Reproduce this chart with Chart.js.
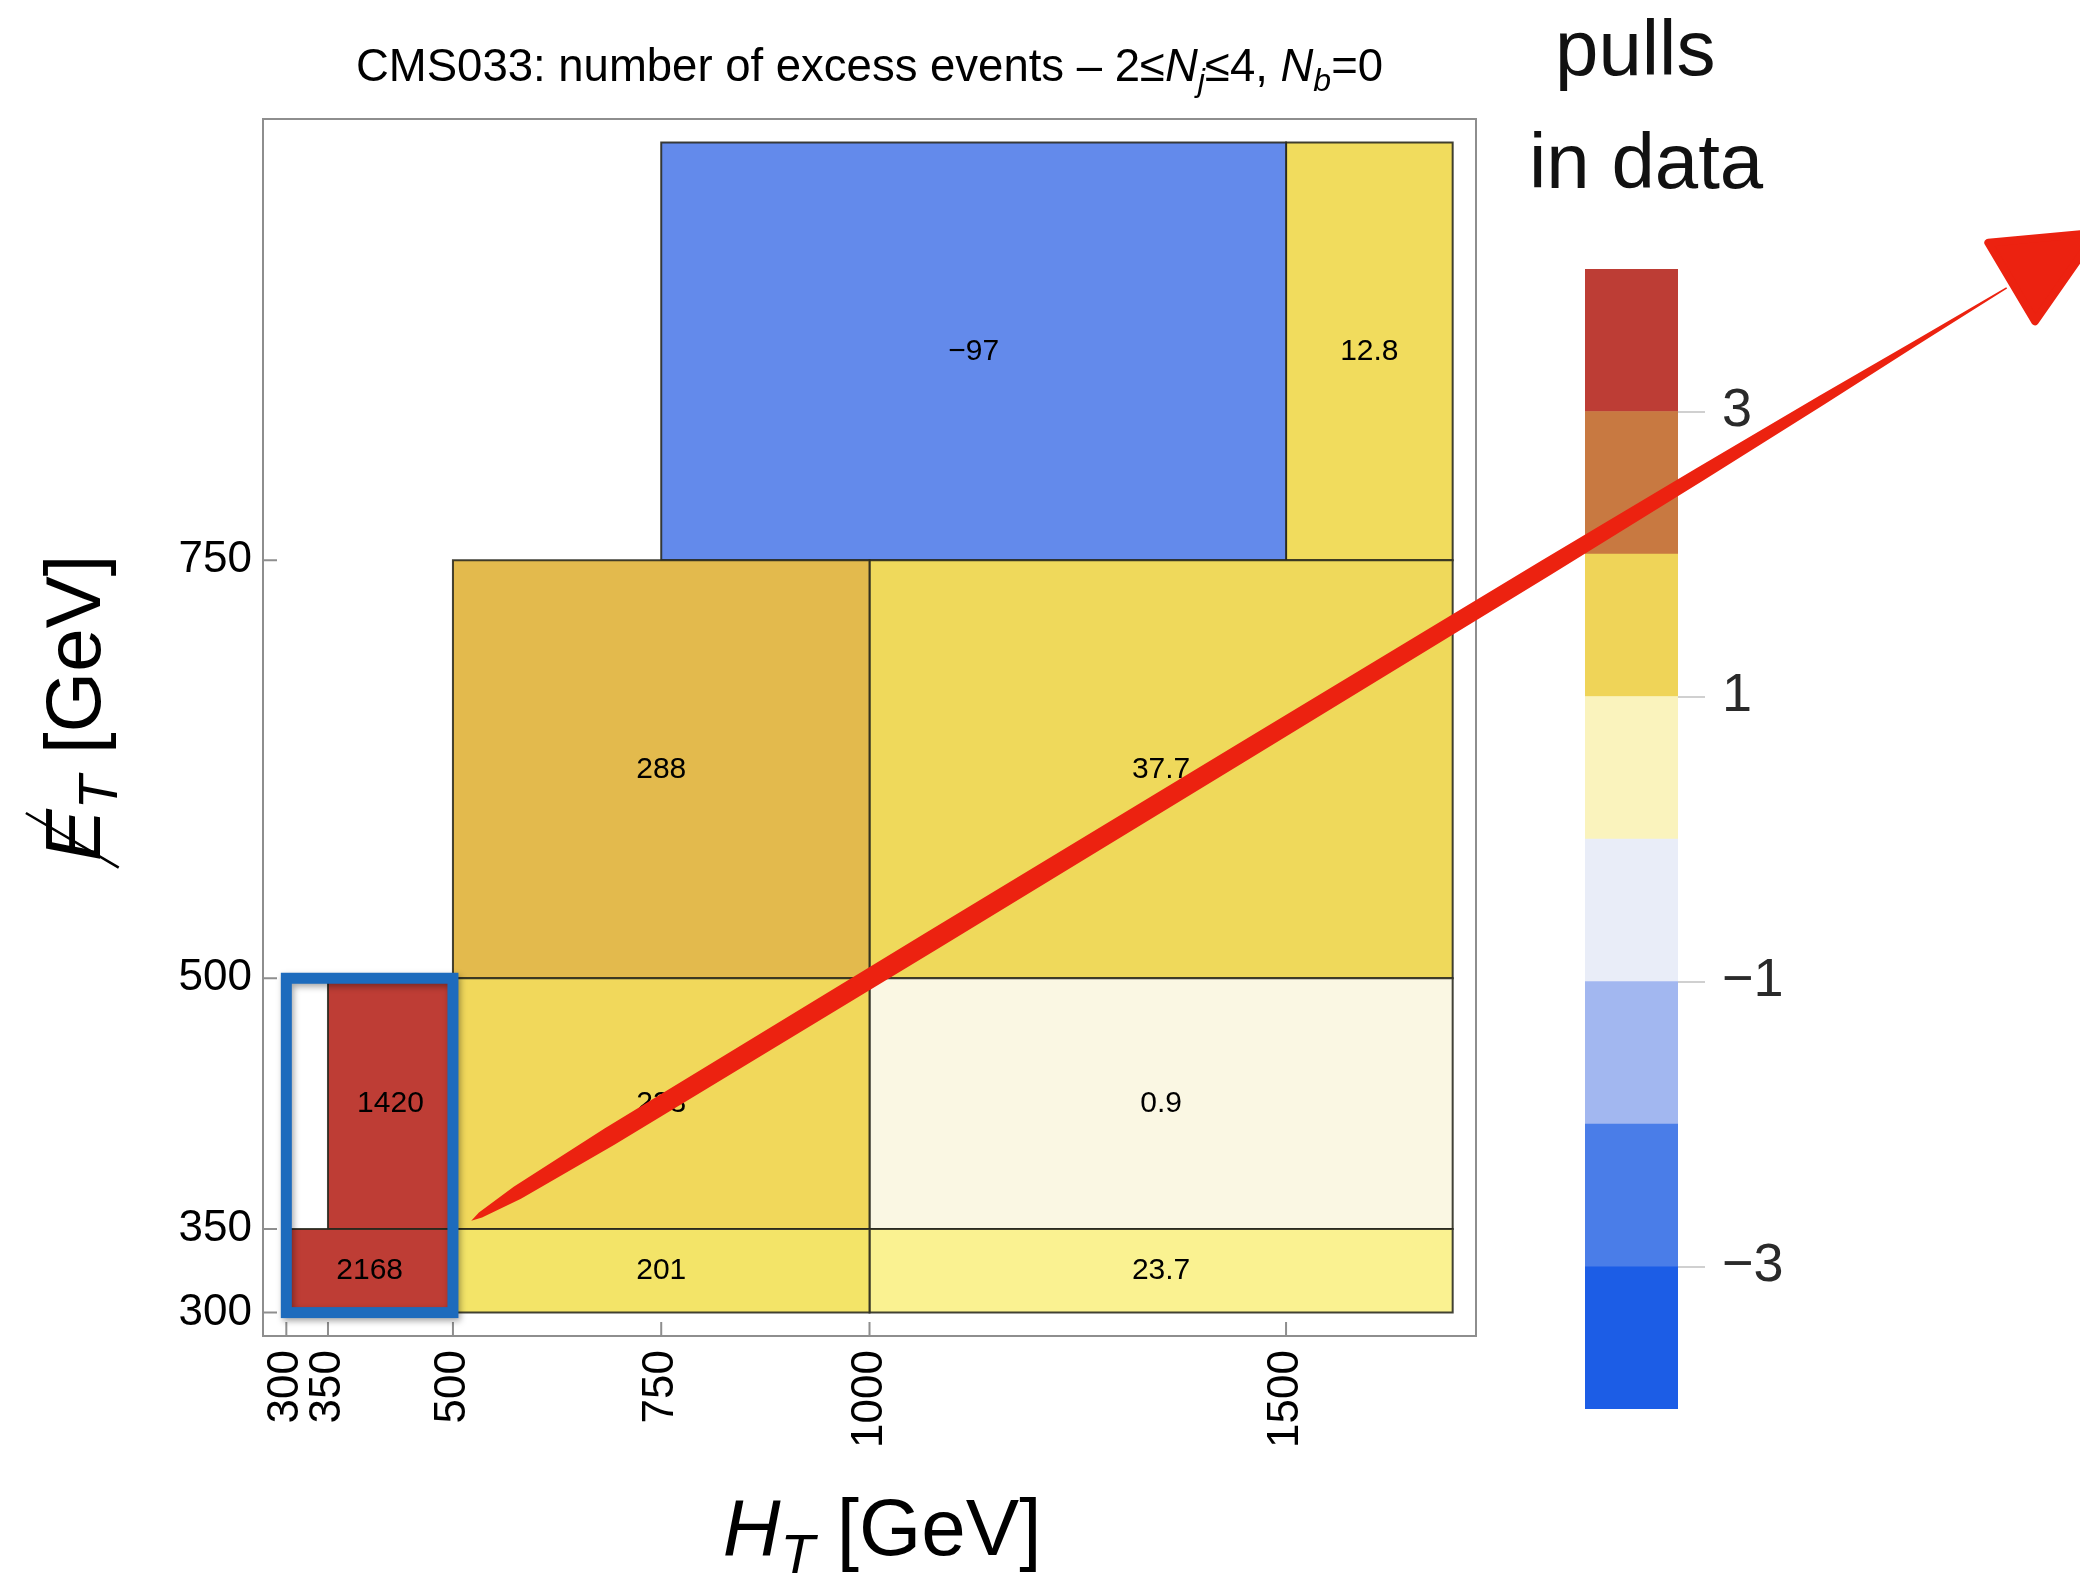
<!DOCTYPE html>
<html>
<head>
<meta charset="utf-8">
<script src="https://cdn.jsdelivr.net/npm/chart.js@4.4.1/dist/chart.umd.min.js"></script>
<style>
  html, body { margin: 0; padding: 0; background: #fff; overflow: hidden; }
  #wrap { position: relative; width: 2080px; height: 1575px; }
  #pulls { position: absolute; left: 1585px; top: 209px; z-index: 1; }
  #main { position: absolute; left: 0; top: 0; z-index: 2; }
</style>
</head>
<body>
<div id="wrap">
  <canvas id="pulls" width="300" height="1260"></canvas>
  <canvas id="main" width="2080" height="1575"></canvas>
</div>
<script>
// Signal-region bins: H_T and missing E_T ranges (GeV) and the excess events in each
const htLow   = [300, 350, 500, 1000, 500, 1000, 500, 1000, 750, 1500];
const htHigh  = [500, 500, 1000, 1700, 1000, 1700, 1000, 1700, 1500, 1700];
const metLow  = [300, 350, 300, 300, 350, 350, 500, 500, 750, 750];
const metHigh = [350, 500, 350, 350, 500, 500, 750, 750, 1000, 1000];
const excessEvents = [2168, 1420, 201, 23.7, 233, 0.9, 288, 37.7, -97, 12.8];

// Fill colour of each bin (pull in data)
const cellColors = ['#be3d35', '#be3d35', '#f3e468', '#faf291', '#f1d85b',
                    '#faf7e3', '#e3ba4d', '#efd95b', '#638aeb', '#f1dc5d'];

const htTicks  = [300, 350, 500, 750, 1000, 1500];
const metTicks = [300, 350, 500, 750];

// Colour legend for the pulls
const pullEdges  = [-4, -3, -2, -1, 0, 1, 2, 3, 4];
const pullColors = ['#1c5de6', '#4a7de8', '#a2b7f0', '#e9edf8',
                    '#faf3bd', '#efd458', '#c87941', '#bd3d35'];
const pullTicks  = [-3, -1, 1, 3];

// Highlighted low-H_T region and the annotation arrow (in H_T / E_T units)
const highlightBox = { htFrom: 300, htTo: 500, metFrom: 300, metTo: 500 };
const arrowFrom = { x: 522, y: 355 };
const arrowTo   = { x: 2365, y: 913 };
const arrowHead = [{ x: 2343, y: 940 }, { x: 2473, y: 946 }, { x: 2399, y: 893 }];

const FONT = '"Liberation Sans", Arial, Helvetica, sans-serif';
const fmt = v => (v < 0 ? '\u2212' + Math.abs(v) : String(v));

function partFont(p, size) {
  const s = p.sub ? Math.round(size * 0.7) : size;
  return (p.it ? 'italic ' : '') + s + 'px ' + FONT;
}
function drawRich(ctx, parts, x, y, size, align) {
  let total = 0;
  const widths = parts.map(p => { ctx.font = partFont(p, size); const w = ctx.measureText(p.t).width; total += w; return w; });
  let cx = align === 'center' ? x - total / 2 : x;
  const placed = [];
  ctx.textAlign = 'left';
  ctx.textBaseline = 'alphabetic';
  parts.forEach((p, i) => {
    ctx.font = partFont(p, size);
    ctx.fillText(p.t, cx, y + (p.sub ? size * 0.22 : 0));
    placed.push({ x: cx, w: widths[i] });
    cx += widths[i];
  });
  return placed;
}

// One closed rectangle per bin, traced through the x/y scales
const cellDatasets = excessEvents.map((v, i) => ({
  label: fmt(v),
  data: [
    { x: htLow[i],  y: metHigh[i] },
    { x: htHigh[i], y: metHigh[i] },
    { x: htHigh[i], y: metLow[i] },
    { x: htLow[i],  y: metLow[i] },
    { x: htLow[i],  y: metHigh[i] },
    { x: htHigh[i], y: metHigh[i] }
  ],
  backgroundColor: cellColors[i],
  borderColor: 'rgba(40,40,30,0.88)',
  borderWidth: 2,
  borderJoinStyle: 'miter',
  pointRadius: 0,
  pointHoverRadius: 0,
  tension: 0,
  fill: 'shape'
}));

const plotDecor = {
  id: 'plotDecor',
  afterDatasetsDraw(chart) {
    const { ctx, chartArea: a, scales: { x, y } } = chart;
    ctx.save();
    // bin values
    ctx.font = '30px ' + FONT;
    ctx.fillStyle = '#000';
    ctx.textAlign = 'center';
    ctx.textBaseline = 'middle';
    excessEvents.forEach((v, i) => {
      const cx = x.getPixelForValue((htLow[i] + htHigh[i]) / 2);
      const cy = y.getPixelForValue((metLow[i] + metHigh[i]) / 2);
      ctx.fillText(fmt(v), cx, cy);
    });
    // frame with inward ticks
    ctx.strokeStyle = '#8e8e8e';
    ctx.lineWidth = 2;
    ctx.strokeRect(a.left, a.top, a.right - a.left, a.bottom - a.top);
    ctx.beginPath();
    htTicks.forEach(v => {
      const px = x.getPixelForValue(v);
      ctx.moveTo(px, a.bottom); ctx.lineTo(px, a.bottom - 14);
    });
    metTicks.forEach(v => {
      const py = y.getPixelForValue(v);
      ctx.moveTo(a.left, py); ctx.lineTo(a.left + 14, py);
    });
    ctx.stroke();
    ctx.restore();
  },
  afterDraw(chart) {
    const { ctx, chartArea: a, scales: { x, y } } = chart;
    ctx.save();
    ctx.fillStyle = '#000';

    // title
    drawRich(ctx, [
      { t: 'CMS033: number of excess events \u2013 2\u2264' },
      { t: 'N', it: true }, { t: 'j', it: true, sub: true },
      { t: '\u22644, ' },
      { t: 'N', it: true }, { t: 'b', it: true, sub: true },
      { t: '=0' }
    ], (a.left + a.right) / 2, 81, 45.5, 'center');

    // x-axis title
    drawRich(ctx, [
      { t: 'H', it: true }, { t: 'T', it: true, sub: true }, { t: ' [GeV]' }
    ], 882, 1555, 80, 'center');

    // y-axis title (rotated, slashed E for missing transverse energy)
    ctx.save();
    ctx.translate(100, 708);
    ctx.rotate(-Math.PI / 2);
    const ySize = 78;
    const placed = drawRich(ctx, [
      { t: 'E', it: true }, { t: 'T', it: true, sub: true }, { t: ' [GeV]' }
    ], 0, 0, ySize, 'center');
    const ex = placed[0].x;
    ctx.strokeStyle = '#000';
    ctx.lineWidth = 2.5;
    ctx.beginPath();
    ctx.moveTo(ex - 0.08 * ySize, 0.24 * ySize);
    ctx.lineTo(ex + 0.62 * ySize, -0.95 * ySize);
    ctx.stroke();
    ctx.restore();

    // legend heading
    ctx.font = '78px ' + FONT;
    ctx.textAlign = 'left';
    ctx.textBaseline = 'alphabetic';
    ctx.fillStyle = '#111';
    ctx.fillText('pulls', 1555, 75);
    ctx.fillText('in data', 1529, 188);

    // highlighted region
    const bx0 = x.getPixelForValue(highlightBox.htFrom);
    const bx1 = x.getPixelForValue(highlightBox.htTo);
    const by0 = y.getPixelForValue(highlightBox.metTo);
    const by1 = y.getPixelForValue(highlightBox.metFrom);
    ctx.save();
    ctx.shadowColor = 'rgba(0,0,0,0.35)';
    ctx.shadowBlur = 6;
    ctx.shadowOffsetX = 2;
    ctx.shadowOffsetY = 3;
    ctx.strokeStyle = '#1d6bbd';
    ctx.lineWidth = 11;
    ctx.strokeRect(bx0, by0, bx1 - bx0, by1 - by0);
    ctx.restore();

    // annotation arrow: tapered brush stroke plus head
    const p0 = { x: x.getPixelForValue(arrowFrom.x), y: y.getPixelForValue(arrowFrom.y) };
    const p1 = { x: x.getPixelForValue(arrowTo.x), y: y.getPixelForValue(arrowTo.y) };
    const dx = p1.x - p0.x, dy = p1.y - p0.y, len = Math.hypot(dx, dy);
    const nx = -dy / len, ny = dx / len;
    const profile = [[0, 0], [0.006, 3], [0.03, 7], [0.09, 9.5], [0.3, 10], [0.5, 9.5],
                     [0.7, 8.5], [0.8, 7], [0.88, 5], [0.94, 2.6], [1, 0.8]];
    ctx.fillStyle = '#ec2210';
    ctx.beginPath();
    profile.forEach(([t, w], k) => {
      const px = p0.x + dx * t + nx * w, py = p0.y + dy * t + ny * w;
      if (k === 0) ctx.moveTo(px, py); else ctx.lineTo(px, py);
    });
    profile.slice().reverse().forEach(([t, w]) => {
      ctx.lineTo(p0.x + dx * t - nx * w, p0.y + dy * t - ny * w);
    });
    ctx.closePath();
    ctx.fill();

    ctx.beginPath();
    arrowHead.forEach((pt, k) => {
      const px = x.getPixelForValue(pt.x), py = y.getPixelForValue(pt.y);
      if (k === 0) ctx.moveTo(px, py); else ctx.lineTo(px, py);
    });
    ctx.closePath();
    ctx.strokeStyle = '#ec2210';
    ctx.lineJoin = 'round';
    ctx.lineWidth = 8;
    ctx.fill();
    ctx.stroke();
    ctx.restore();
  }
};

new Chart(document.getElementById('main'), {
  type: 'line',
  data: { datasets: cellDatasets },
  options: {
    responsive: false,
    devicePixelRatio: 1,
    animation: false,
    events: [],
    layout: { padding: { left: 0, top: 119, right: 604, bottom: 0 } },
    plugins: { legend: { display: false }, tooltip: { enabled: false }, title: { display: false } },
    scales: {
      x: {
        type: 'linear', min: 272, max: 1728,
        afterBuildTicks: s => { s.ticks = htTicks.map(v => ({ value: v })); },
        afterFit: s => { s.height = 239; },
        grid: { display: false, drawTicks: false },
        border: { display: false },
        ticks: {
          autoSkip: false, minRotation: 90, maxRotation: 90, padding: 14,
          color: '#000', font: { family: FONT, size: 44 },
          callback: v => String(v)
        }
      },
      y: {
        type: 'linear', min: 286, max: 1014,
        afterBuildTicks: s => { s.ticks = metTicks.map(v => ({ value: v })); },
        afterFit: s => { s.width = 263; },
        grid: { display: false, drawTicks: false },
        border: { display: false },
        ticks: {
          autoSkip: false, padding: 11,
          color: '#000', font: { family: FONT, size: 44 },
          callback: v => String(v)
        }
      }
    }
  },
  plugins: [plotDecor]
});

// Colour legend: one floating bar per pull band on a pull axis
new Chart(document.getElementById('pulls'), {
  type: 'bar',
  data: {
    labels: [''],
    datasets: pullColors.map((c, i) => ({
      data: [[pullEdges[i], pullEdges[i + 1]]],
      backgroundColor: c,
      borderWidth: 0,
      barPercentage: 1,
      categoryPercentage: 1,
      grouped: false
    }))
  },
  options: {
    responsive: false,
    devicePixelRatio: 1,
    animation: false,
    events: [],
    layout: { padding: { left: 0, top: 60, right: 0, bottom: 60 } },
    plugins: { legend: { display: false }, tooltip: { enabled: false } },
    scales: {
      x: { display: false },
      y: {
        position: 'right', min: -4, max: 4,
        afterBuildTicks: s => { s.ticks = pullTicks.map(v => ({ value: v })); },
        afterFit: s => { s.width = 207; },
        grid: { display: true, drawOnChartArea: false, drawTicks: true, tickLength: 27, color: '#d0d0d0', lineWidth: 2 },
        border: { display: false },
        ticks: {
          padding: 17, color: '#2a2a2a', font: { family: FONT, size: 54 },
          callback: v => fmt(v)
        }
      }
    }
  }
});
</script>
</body>
</html>
